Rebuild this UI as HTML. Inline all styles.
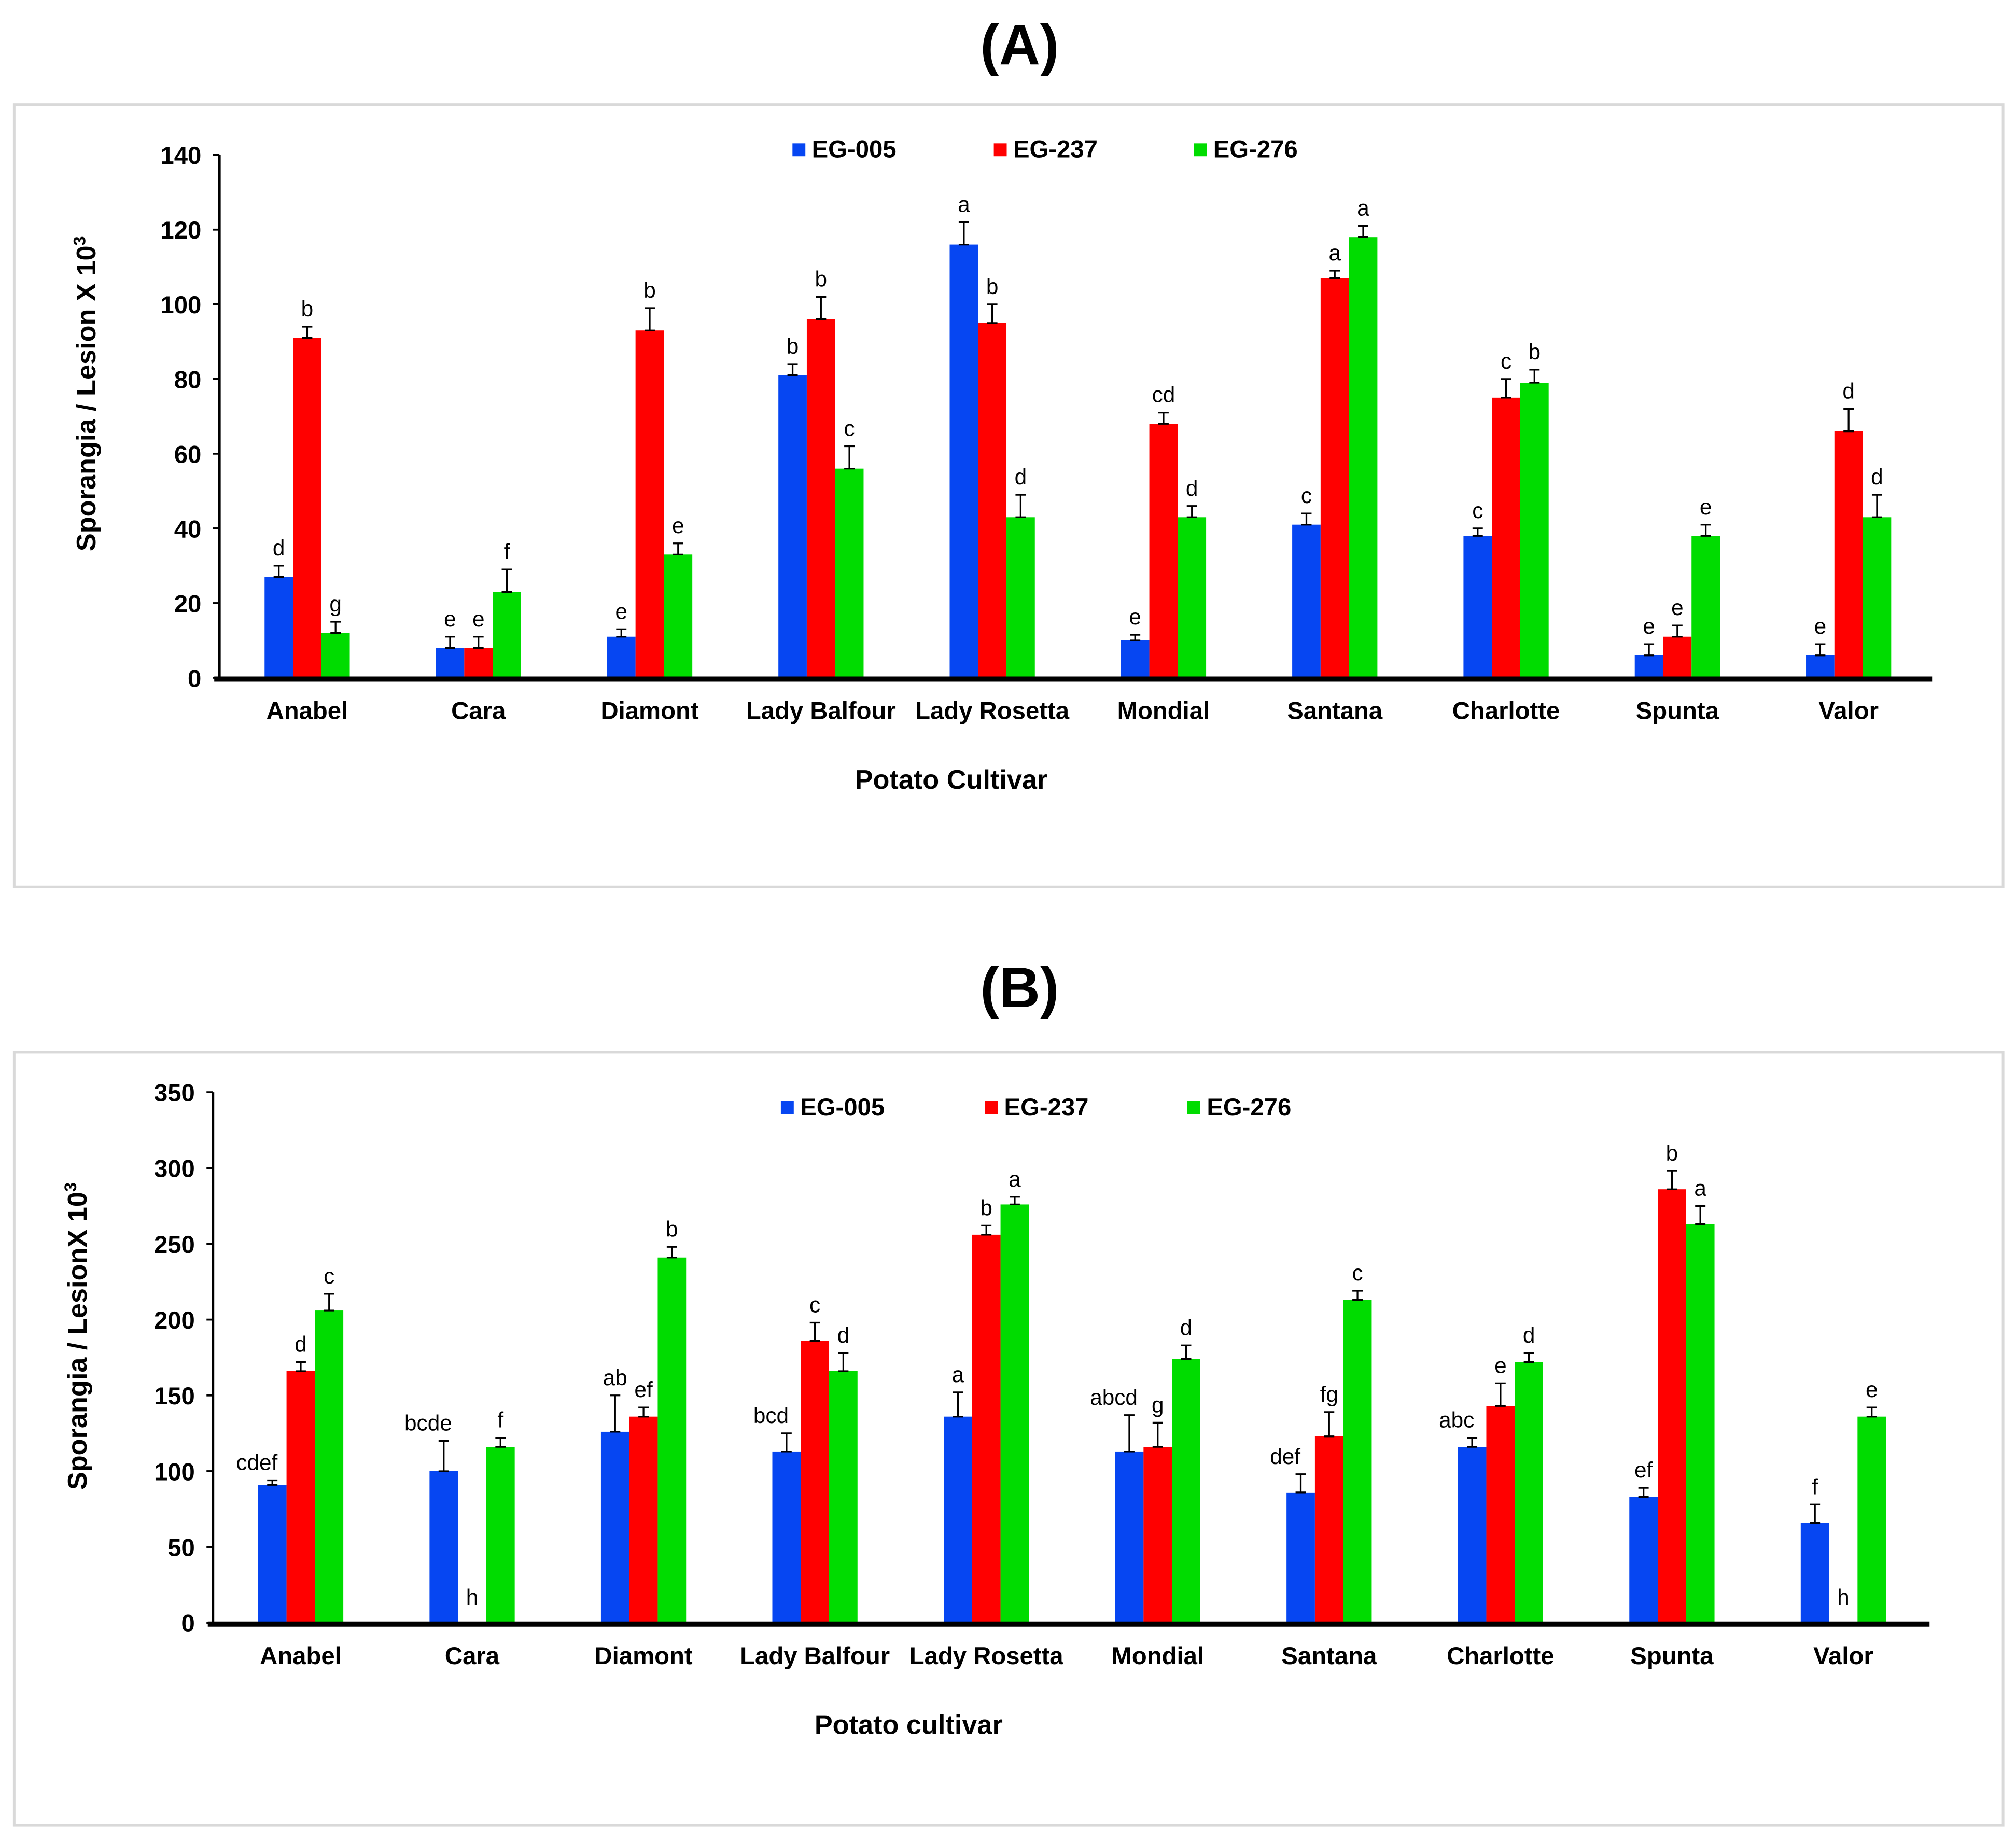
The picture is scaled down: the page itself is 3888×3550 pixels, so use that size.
<!DOCTYPE html>
<html><head><meta charset="utf-8"><style>
html,body{margin:0;padding:0;background:#fff;}
svg{display:block;font-family:"Liberation Sans",Arial,sans-serif;font-weight:bold;}
</style></head><body>
<svg id="s" width="3888" height="3550" viewBox="0 0 1562 1426" preserveAspectRatio="none" xmlns="http://www.w3.org/2000/svg">
<rect x="11" y="81" width="1541" height="606" fill="#fff" stroke="#d9d9d9" stroke-width="2"/>
<rect x="11" y="815" width="1541" height="599" fill="#fff" stroke="#d9d9d9" stroke-width="2"/>
<text x="790" y="50" font-size="44" text-anchor="middle">(A)</text>
<text x="790" y="780" font-size="44" text-anchor="middle">(B)</text>
</svg>
<script>
const categories=["Anabel","Cara","Diamont","Lady Balfour","Lady Rosetta","Mondial","Santana","Charlotte","Spunta","Valor"];
const seriesNames=["EG-005","EG-237","EG-276"];
const aEG005=[27,8,11,81,116,10,41,38,6,6];
const aEG237=[91,8,93,96,95,68,107,75,11,66];
const aEG276=[12,23,33,56,43,43,118,79,38,43];
const aErr005=[3,3,2,3,6,1.5,3,2,3,3];
const aErr237=[3,3,6,6,5,3,2,5,3,6];
const aErr276=[3,6,3,6,6,3,3,3.5,3,6];
const aLetters005=["d","e","e","b","a","e","c","c","e","e"];
const aLetters237=["b","e","b","b","b","cd","a","c","e","d"];
const aLetters276=["g","f","e","c","d","d","a","b","e","d"];
const aTicks=[0,20,40,60,80,100,120,140];
const bEG005=[91,100,126,113,136,113,86,116,83,66];
const bEG237=[166,0,136,186,256,116,123,143,286,0];
const bEG276=[206,116,241,166,276,174,213,172,263,136];
const bErr005=[3,20,24,12,16,24,12,6,6,12];
const bErr237=[6,0,6,12,6,16,16,15,12,0];
const bErr276=[11,6,7,12,5,9,6,6,12,6];
const bLetters005=["cdef","bcde","ab","bcd","a","abcd","def","abc","ef","f"];
const bLetters237=["d","h","ef","c","b","g","fg","e","b","h"];
const bLetters276=["c","f","b","d","a","d","c","d","a","e"];
const bTicks=[0,50,100,150,200,250,300,350];
const colors=["#0646f2","#ff0000","#00dc00"];
const NS="http://www.w3.org/2000/svg";
const svg=document.getElementById('s');
function mk(tag,attrs,parent){const e=document.createElementNS(NS,tag);for(const k in attrs)e.setAttribute(k,attrs[k]);(parent||svg).appendChild(e);return e;}
function panel(cfg){
  const g=mk('g',{});
  
  
  const y=v=>cfg.y0-(v/cfg.max)*(cfg.y0-cfg.yTop);
  const xc=i=>cfg.x0+i*cfg.step;
  cfg.ticks.forEach(t=>{
    const l=mk('line',{x1:cfg.ax-5,x2:cfg.ax,y1:y(t),y2:y(t),stroke:'#000','stroke-width':1.5},g);
    
    const tx=mk('text',{x:cfg.ax-14,y:y(t)+7,'font-size':19,'text-anchor':'end'},g);tx.textContent=t;
    
  });
  const vals=[cfg.v0,cfg.v1,cfg.v2],errs=[cfg.e0,cfg.e1,cfg.e2],lets=[cfg.l0,cfg.l1,cfg.l2];
  const bw=22;
  categories.forEach((c,i)=>{
    for(let s=0;s<3;s++){
      const v=vals[s][i];const bx=xc(i)+(s-1)*bw-bw/2;
      if(v>0){
        const r=mk('rect',{x:bx,y:y(v),width:bw,height:cfg.y0-y(v),fill:colors[s]},g);
        
        
        const et=y(v+errs[s][i]);const cx=bx+bw/2;
        const el=mk('path',{d:`M${cx} ${y(v)}V${et}M${cx-4} ${et}H${cx+4}M${cx-4} ${y(v)}H${cx+4}`,stroke:'#000','stroke-width':1.3,fill:'none'},g);
        
        const lt=lets[s][i];
        const lx=cx-(s===0&&lt.length>2?12:0);
        const t=mk('text',{x:lx,y:et-8,'font-size':17,'font-weight':'normal','text-anchor':'middle'},g);t.textContent=lt;
        
      } else {
        const t=mk('text',{x:bx+bw/2,y:cfg.y0-14,'font-size':17,'font-weight':'normal','text-anchor':'middle'},g);t.textContent=lets[s][i];
        
      }
    }
    const cl=mk('text',{x:xc(i),y:cfg.y0+32,'font-size':19,'text-anchor':'middle'},g);cl.textContent=c;
    
  });
  const ya=mk('line',{x1:cfg.ax,x2:cfg.ax,y1:cfg.yTop,y2:cfg.y0,stroke:'#000','stroke-width':2},g);
  
  const xa=mk('line',{x1:cfg.ax-4,x2:cfg.xEnd,y1:cfg.y0+1,y2:cfg.y0+1,stroke:'#000','stroke-width':4},g);
  
  const xt=mk('text',{x:cfg.xtX,y:cfg.y0+86,'font-size':21,'text-anchor':'middle'},g);xt.textContent=cfg.xTitle;
  
  const yt=mk('text',{x:0,y:0,'font-size':21,'text-anchor':'middle',transform:`translate(${cfg.ytX},${cfg.ytY}) rotate(-90)`},g);
  yt.innerHTML=cfg.yTitle+'<tspan font-size="13" dy="-8">3</tspan>';
  
  cfg.legX.forEach((lx,s)=>{
    const r=mk('rect',{x:lx,y:cfg.legY-11,width:10,height:10,fill:colors[s]},g);
    
    const t=mk('text',{x:lx+15,y:cfg.legY,'font-size':19},g);t.textContent=seriesNames[s];
    
  });
}
panel({id:'panel-a',ax:170,yTop:120,y0:525,max:140,x0:238,step:132.7,xEnd:1497,ticks:aTicks,
  v0:aEG005,v1:aEG237,v2:aEG276,e0:aErr005,e1:aErr237,e2:aErr276,l0:aLetters005,l1:aLetters237,l2:aLetters276,
  xTitle:'Potato Cultivar',xtX:737,yTitle:'Sporangia / Lesion X 10',ytX:74,ytY:305,legX:[614,770,925],legY:122});
panel({id:'panel-b',ax:165,yTop:846,y0:1257,max:350,x0:233,step:132.8,xEnd:1495,ticks:bTicks,
  v0:bEG005,v1:bEG237,v2:bEG276,e0:bErr005,e1:bErr237,e2:bErr276,l0:bLetters005,l1:bLetters237,l2:bLetters276,
  xTitle:'Potato cultivar',xtX:704,yTitle:'Sporangia / LesionX 10',ytX:67,ytY:1035,legX:[605,763,920],legY:864});
</script>
</body></html>
